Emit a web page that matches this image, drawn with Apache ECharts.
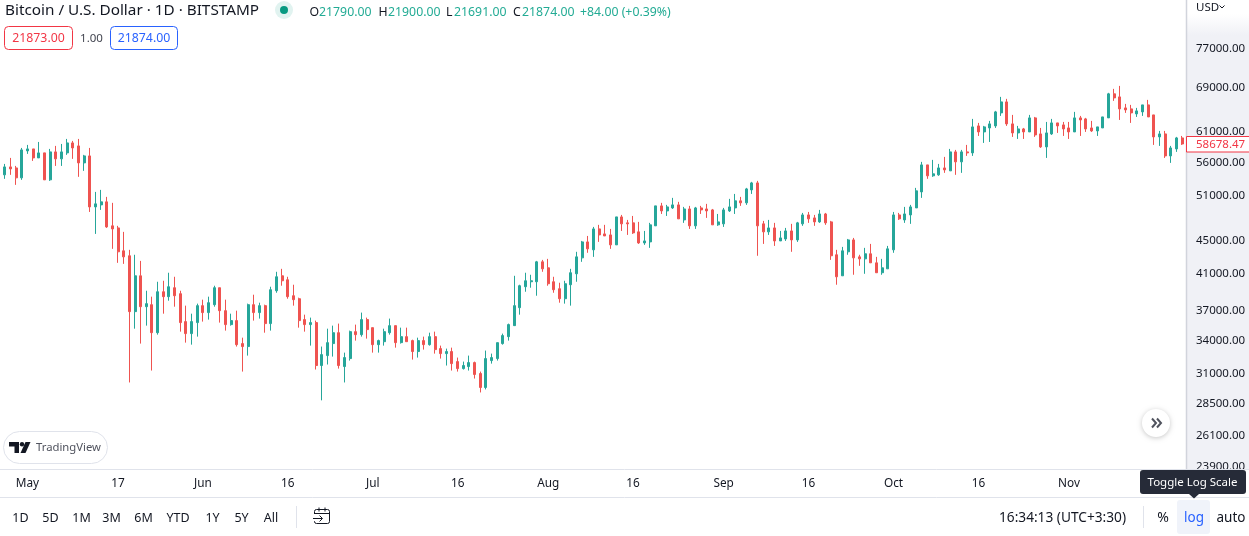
<!DOCTYPE html>
<html>
<head>
<meta charset="utf-8">
<style>html,body{margin:0;padding:0;background:#fff}#c{width:1249px;height:536px}</style>
<script src="https://cdn.jsdelivr.net/npm/echarts@6/dist/echarts.min.js"></script>
</head>
<body>
<div id="c"></div>
<script>
const firstDay = '2021-04-27';
const opens = [53830,55040,54880,53380,57560,57880,56440,57240,53080,57400,56290,57240,58860,58370,55660,56760,49210,49490,49910,46670,46400,43520,42920,36710,40580,37220,37430,34610,38810,38280,39250,38600,35700,34520,35600,37330,36610,37430,39250,36810,35400,35800,33570,33290,37430,36610,37330,35500,38920,40580,40130,38380,38060,35900,35400,35600,31570,32460,33570,34610,31480,32190,34710,34420,35900,35100,33470,33750,34610,35300,33660,34230,33850,32830,33850,33470,34230,33100,32640,32830,31920,31300,31480,31830,30870,29690,32010,32190,33570,34230,35300,37120,39360,39910,39910,42200,41500,39910,39140,38060,39580,40810,42670,44620,43640,46270,45630,45500,44250,47850,47060,47060,45890,44490,44620,46670,49350,48660,49070,49490,47450,48930,46670,49070,48930,48800,46800,46930,48660,49070,50050,49770,51610,52630,46930,45890,46400,44740,44990,46010,44870,46930,48120,47720,47190,48250,47190,43040,40580,43400,44870,42790,42550,43160,42080,40930,41380,43640,48120,47450,48120,49070,51320,55350,53680,53830,54880,54430,57400,55820,57400,57240,61730,60700,61380,61730,64020,66020,62080,60530,61210,60700,63130,60360,58210,60360,62250,61900,61380,60700,63130,62950,61380,60870,61380,63130,67520,66950,64920,64740,63840,64200,65470,63660,59860,60360,56760,57880,59690];
const closes = [55040,54730,53380,57720,57880,56440,57240,53080,57400,56290,57400,58860,58040,55660,56760,49210,49630,49910,46530,46270,43400,42790,36710,40580,37220,37540,34610,38810,38280,39360,38380,35600,34520,35700,37330,36610,37640,39250,36810,35400,35800,33470,33290,37430,36610,37330,35500,39030,40470,40020,38280,37960,35800,35400,35600,31570,32550,33660,34610,31570,32280,34710,34420,35900,34910,33470,33850,34710,35300,33660,34230,33750,32830,33850,33470,34230,33010,32640,32830,31740,31300,31570,31830,30790,29690,32190,32280,33660,34330,35400,37330,39470,40020,40020,42200,41380,39690,39030,38060,39690,40930,42790,44620,43760,46270,45500,45370,44250,47850,46930,46930,45760,44490,44740,46800,49350,48660,49210,49490,47590,48930,46670,49070,48800,48660,46800,47190,48800,49210,50050,49770,51750,52630,46670,45890,46400,44740,45120,46010,44870,47060,48120,47590,47190,48250,47060,42920,40470,43520,44870,42670,42550,43160,42080,40930,41500,43760,48120,47590,48250,49210,51470,55350,53680,53980,54880,54580,57400,55820,57400,57240,61560,60700,61560,62080,64200,66020,62080,60530,61210,60700,63130,60190,58210,60530,62250,61730,61210,60700,63130,62770,61210,60870,61560,63300,67520,66760,64740,64560,64020,64380,65470,63300,59860,60360,56760,58040,59690,58678.47];
const lows = [53230,53830,52340,53080,57080,55970,56440,53080,52930,55190,55190,56920,56290,53530,54430,48520,45630,48800,46400,43760,42080,41960,30110,35000,33570,35300,31130,34420,36500,37850,37220,34710,33660,33470,34230,35700,35900,37220,35600,34810,35300,33290,31040,32460,35800,36000,34610,34810,38700,39470,38060,37330,35100,34710,33380,31220,28640,31660,32370,31300,30110,32010,33850,34230,34040,32730,32730,33380,34420,33190,33570,33750,32100,32280,33010,33380,32640,32190,31570,31130,31040,31220,31130,30440,29280,29530,31740,32010,33470,33850,35300,36400,38810,39250,38380,41040,39470,38700,37640,37540,37330,39910,42200,43280,42790,44620,45370,43760,44250,46010,45500,45630,44370,44250,43880,46670,48250,47980,48930,47590,47060,46270,46270,48250,47720,46800,46670,46530,48520,48250,49350,49490,51030,42920,44370,45500,44120,44740,44740,43400,44620,46670,47060,46670,47060,46800,42430,39580,40580,43040,40700,41730,40810,42080,40930,40700,41380,43280,47450,47060,46930,49070,50470,53230,53530,53680,54130,54430,53830,54130,56760,56760,60020,58860,59020,61380,63480,61730,59860,59520,59520,60700,59860,58040,56440,60190,60530,60020,59520,60700,60020,60700,60700,60020,61380,63130,66210,62770,64020,62250,63300,63480,63300,58530,58370,56440,55660,57400,58530];
const highs = [55500,56440,55190,58040,58530,57880,59020,57240,57880,58370,58690,59520,59190,59520,56920,58040,51320,51610,50610,49770,46670,45890,43640,43040,42310,38920,38280,39910,40020,40930,40470,38920,37330,36500,37540,37960,38280,39470,39250,37960,36500,36810,34130,37540,38490,37640,37430,39360,41040,41380,40470,39580,38170,36400,36100,35800,33290,35000,35300,35500,32730,34810,35400,36610,36100,35100,33940,35000,36000,35300,35100,35100,33940,34130,34230,34610,34710,33380,33100,33190,32280,31920,32460,31920,31040,32920,32640,33660,34520,35500,40580,39580,40930,40700,42310,42430,42550,40470,39800,40020,41380,43400,44740,45370,46530,46800,46800,46270,47850,48120,47450,47980,47190,46010,47060,49350,49770,49490,50470,49910,49210,49350,49210,49350,49630,48930,48250,49070,50330,51030,50610,51900,52780,52930,47320,47450,47060,46010,46400,46930,47190,48390,48520,48120,48800,48390,47320,43640,44000,44990,45120,43040,43880,44370,42790,42550,44120,48520,48390,49210,49490,51900,55820,55350,56130,55500,56600,57880,57720,57720,58530,62950,62250,61730,62600,64380,66950,66580,63660,61730,61380,63660,63300,61380,62420,62950,62250,62420,62420,64200,63480,63130,62600,61560,63300,67710,68470,69040,65650,65470,64920,65470,66390,63660,60870,60870,58370,59860,60020];
const priceTicks = [77000,69000,61000,56000,51000,45000,41000,37000,34000,31000,28500,26100,23900];
const dateTicks = ['2021-05-01','2021-05-17','2021-06-01','2021-06-16','2021-07-01','2021-07-16','2021-08-01','2021-08-16','2021-09-01','2021-09-16','2021-10-01','2021-10-16','2021-11-01'];
const dateTickLabels = ['May','17','Jun','16','Jul','16','Aug','16','Sep','16','Oct','16','Nov'];
const rangeButtons = ['1D','5D','1M','3M','6M','YTD','1Y','5Y','All'];
const rangeButtonX = [20.5,50.5,81.5,111.5,143.5,178,212.5,241.5,271];
const symbolTitle = 'Bitcoin / U.S. Dollar · 1D · BITSTAMP';
const lastPriceLabel = '58678.47';

const categories = opens.map((_, i) => {
  const d = new Date(firstDay + 'T00:00:00Z');
  d.setUTCDate(d.getUTCDate() + i);
  return d.toISOString().slice(0, 10);
});
const candles = opens.map((o, i) => [o, closes[i], lows[i], highs[i]]);

const UI = '"Noto Sans", sans-serif';
const INK = '#131722', UP = '#26a69a', DOWN = '#ef5350', TEAL = '#22ab94';
function txt(text, x, y, fill, size, align, z, weight) {
  return {type:'text', z:z||10, silent:true, style:{text, x, y, fill:fill||INK,
    font:(weight||'normal')+' '+(size||13)+'px '+UI, align:align||'left', verticalAlign:'middle'}};
}
function rr(x,y,w,h,fill,stroke,r,z,extra){
  return {type:'rect', z:z||1, silent:true, shape:{x,y,width:w,height:h,r:r||0},
    style:Object.assign({fill:fill||'none',stroke:stroke||'none',lineWidth:1},extra||{})};
}
function ln(x1,y1,x2,y2,c,z,w){
  return {type:'line', z:z||3, silent:true, shape:{x1,y1,x2,y2}, style:{stroke:c,lineWidth:w||1}};
}
function pl(points,c,z,w){
  return {type:'polyline', z:z||11, silent:true, shape:{points}, style:{stroke:c,lineWidth:w||1.5,fill:'none'}};
}

const els = [
  {type:'rect', z:-5, silent:true, shape:{x:1186,y:0,width:63,height:469},
    style:{fill:new echarts.graphic.LinearGradient(0,0,0,1,[{offset:0,color:'#ffffff'},{offset:0.03,color:'#ffffff'},{offset:0.075,color:'#f0f1f6'},{offset:1,color:'#f0f1f6'}])}},
  rr(0,470,1249,66,'#ffffff',null,0,1),
  ln(0,469.5,1249,469.5,'#e0e3eb',3),
  ln(0,497.5,1249,497.5,'#e0e3eb',3),
  ln(1186.5,0,1186.5,469,'#d1d4dc',3,1.5),
  txt('USD',1196,7.5,INK,11.5),
  pl([[1219.5,5.5],[1222,8],[1224.5,5.5]],INK,11,1),
  txt(symbolTitle,5,11,INK,15.3),
  {type:'circle', z:10, silent:true, shape:{cx:284,cy:10,r:9}, style:{fill:'#e1f3f0'}},
  {type:'circle', z:11, silent:true, shape:{cx:284,cy:10,r:4}, style:{fill:'#089981'}},
  txt('O',309.5,12,INK,12.3), txt('21790.00',319,12,TEAL,12.3),
  txt('H',378.5,12,INK,12.3), txt('21900.00',388,12,TEAL,12.3),
  txt('L',446,12,INK,12.3), txt('21691.00',454,12,TEAL,12.3),
  txt('C',513,12,INK,12.3), txt('21874.00',522,12,TEAL,12.3),
  txt('+84.00 (+0.39%)',580,12,TEAL,12.3),
  rr(4.5,26.5,68,23,'#ffffff','#f23645',4,5),
  txt('21873.00',38.5,38.5,'#f23645',12.3,'center'),
  txt('1.00',91.5,38.5,'#434651',11.5,'center'),
  rr(110.5,26.5,67,23,'#ffffff','#2962ff',4,5),
  txt('21874.00',144,38.5,'#2962ff',12.3,'center'),
  rr(3.5,431.5,104,32,'#ffffff','#e0e3eb',16,5),
  {type:'polygon', z:11, silent:true, shape:{points:[[9,442],[19,442],[19,453],[14.5,453],[14.5,446.5],[9,446.5]]}, style:{fill:INK}},
  {type:'circle', z:11, silent:true, shape:{cx:22,cy:444.2,r:2.2}, style:{fill:INK}},
  {type:'polygon', z:11, silent:true, shape:{points:[[25.5,442],[30.5,442],[25.5,453],[20.5,453]]}, style:{fill:INK}},
  txt('TradingView',36,447.5,'#50535e',11.3),
  {type:'circle', z:6, silent:true, shape:{cx:1156,cy:423,r:14}, style:{fill:'#ffffff',shadowBlur:5,shadowColor:'rgba(0,0,0,0.22)',shadowOffsetY:1}},
  pl([[1152,418.5],[1156,423],[1152,427.5]],'#50535e',11,2),
  pl([[1157,418.5],[1161,423],[1157,427.5]],'#50535e',11,2),
  ln(296.5,506,296.5,528,'#e0e3eb',3),
  rr(314.5,509.5,15,14,'none','#131722',2,11),
  {type:'rect', z:12, silent:true, shape:{x:313,y:514,width:8,height:7}, style:{fill:'#ffffff'}},
  ln(314,513.5,330,513.5,'#131722',12),
  ln(319,507.5,319,511.5,'#131722',12),
  ln(325,507.5,325,511.5,'#131722',12),
  pl([[313,518.5],[322,518.5]],'#131722',12,1),
  pl([[319.5,515.5],[322.5,518.5],[319.5,521.5]],'#131722',12,1),
  txt('16:34:13 (UTC+3:30)',1062.5,518.5,INK,13.7,'center'),
  ln(1143.5,506,1143.5,528,'#e0e3eb',3),
  txt('%',1163,518,INK,14,'center'),
  rr(1177,500,33,34,'#f0f3fa',null,3,4),
  txt('log',1194,518.5,'#2962ff',13.5,'center'),
  txt('auto',1231,518.5,INK,13.5,'center'),
  rr(1140,470,106,24,'#262b38',null,3,12),
  {type:'polygon', z:12, silent:true, shape:{points:[[1189,494],[1199,494],[1194,498.5]]}, style:{fill:'#262b38'}},
  txt('Toggle Log Scale',1192.5,482.5,'#ffffff',11.5,'center',13)
];
rangeButtons.forEach((t, i) => els.push(txt(t, rangeButtonX[i], 518.5, INK, 12.5, 'center')));

const chart = echarts.init(document.getElementById('c'), null, {renderer:'canvas', width:1249, height:536});
chart.setOption({
  animation:false,
  backgroundColor:'#ffffff',
  grid:{left:2, top:0, width:1183, height:469, containLabel:false},
  xAxis:{
    type:'category', data:categories, boundaryGap:true, z:5,
    axisLine:{show:false}, axisTick:{show:false}, splitLine:{show:false},
    axisLabel:{
      margin:9, color:INK, fontSize:11.8, fontFamily:UI,
      interval:(i, v) => dateTicks.includes(v),
      formatter:v => dateTickLabels[dateTicks.indexOf(v)] || ''
    }
  },
  yAxis:{
    type:'log', position:'right', min:23634, max:87800, logBase:10, z:0,
    axisLine:{show:false}, axisTick:{show:false}, splitLine:{show:false}, minorTick:{show:false}, minorSplitLine:{show:false},
    axisLabel:{
      margin:11, color:INK, fontSize:11.5, fontFamily:UI, align:'left',
      showMinLabel:true, showMaxLabel:true, customValues:priceTicks,
      formatter:v => '{v|' + Number(v).toFixed(2) + '}',
      rich:{v:{padding:[4,0,0,0], fontSize:11.5, fontFamily:UI, color:INK}}
    }
  },
  series:[{
    type:'candlestick', data:candles, barWidth:2.5, clip:true,
    itemStyle:{color:UP, color0:DOWN, borderColor:UP, borderColor0:DOWN, borderWidth:1}
  }],
  graphic:{elements:els}
});
const tagY = chart.convertToPixel({yAxisIndex:0}, closes[closes.length - 1]);
chart.setOption({graphic:{elements:[
  Object.assign(rr(1186.5,Math.round(tagY)-7.5,63,15.5,'#ffffff','#f23645',0,6),{id:'tag'}),
  Object.assign(txt(lastPriceLabel,1196,Math.round(tagY)+1,'#f23645',11.5,'left',7),{id:'tagText'})
]}});
</script>
</body>
</html>
